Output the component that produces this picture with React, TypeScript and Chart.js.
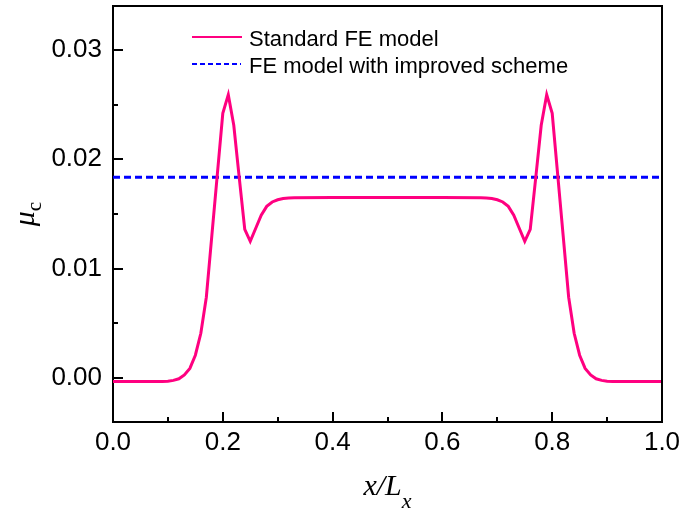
import { useEffect, useRef } from "react";
import { Chart, registerables } from "chart.js";

Chart.register(...registerables);

// Normalised position along the specimen, x / Lx
const xPositions = [
  0.0, 0.04, 0.08, 0.09, 0.1, 0.11, 0.12, 0.13, 0.14, 0.15, 0.16, 0.17, 0.18, 0.19,
  0.2, 0.21, 0.22, 0.23, 0.24, 0.25, 0.26, 0.27, 0.28, 0.29, 0.3, 0.31, 0.32, 0.33,
  0.4, 0.5, 0.6,
  0.67, 0.68, 0.69, 0.7, 0.71, 0.72, 0.73, 0.74, 0.75, 0.76, 0.77, 0.78, 0.79, 0.8,
  0.81, 0.82, 0.83, 0.84, 0.85, 0.86, 0.87, 0.88, 0.89, 0.9, 0.91, 0.92, 0.96, 1.0,
];

// Friction coefficient, standard FE model
const muStandard = [
  -0.0003, -0.0003, -0.0003, -0.0003, -0.00028, -0.0002, -0.00005, 0.0003, 0.0009, 0.0021,
  0.0041, 0.0074, 0.013, 0.0186, 0.0242, 0.0259, 0.0231, 0.0183, 0.0136, 0.0125, 0.0137,
  0.0149, 0.0157, 0.0161, 0.0163, 0.01642, 0.01646, 0.01648,
  0.0165, 0.0165, 0.0165,
  0.01648, 0.01646, 0.01642, 0.0163, 0.0161, 0.0157, 0.0149, 0.0137, 0.0125, 0.0136,
  0.0183, 0.0231, 0.0259, 0.0242, 0.0186, 0.013, 0.0074, 0.0041, 0.0021, 0.0009, 0.0003,
  -0.00005, -0.0002, -0.00028, -0.0003, -0.0003, -0.0003, -0.0003,
];

// Friction coefficient, FE model with improved scheme
const improvedPositions = [0.0, 1.0];
const muImproved = [0.01835, 0.01835];

const seriesLabels = ["Standard FE model", "FE model with improved scheme"];

const xTickValues = [0.0, 0.2, 0.4, 0.6, 0.8, 1.0];
const xMinorTicks = [0.1, 0.3, 0.5, 0.7, 0.9];
const yTickValues = [0.0, 0.01, 0.02, 0.03];
const yMinorTicks = [0.005, 0.015, 0.025];

const PINK = "#FF0080";
const BLUE = "#0000FF";
const SANS = "'Liberation Sans', Arial, sans-serif";
const SERIF = "'Liberation Serif', 'Times New Roman', serif";

// Closed frame plus inward-pointing major/minor tick marks
const frameTicks = {
  id: "frameTicks",
  afterDatasetsDraw(chart: any) {
    const { ctx, chartArea: a, scales } = chart;
    const xs = scales.x;
    const ys = scales.y;
    ctx.save();
    ctx.strokeStyle = "#000";
    ctx.lineWidth = 2;
    ctx.beginPath();
    ctx.moveTo(a.left - 1, a.top);
    ctx.lineTo(a.right, a.top);
    ctx.lineTo(a.right, a.bottom + 1);
    const xMark = (v: number, len: number) => {
      const px = Math.round(xs.getPixelForValue(v));
      ctx.moveTo(px, a.bottom);
      ctx.lineTo(px, a.bottom - len);
    };
    const yMark = (v: number, len: number) => {
      const py = Math.round(ys.getPixelForValue(v));
      ctx.moveTo(a.left, py);
      ctx.lineTo(a.left + len, py);
    };
    xTickValues.forEach((v) => xMark(v, 10));
    xMinorTicks.forEach((v) => xMark(v, 5));
    yTickValues.forEach((v) => yMark(v, 10));
    yMinorTicks.forEach((v) => yMark(v, 5));
    ctx.stroke();
    ctx.restore();
  },
};

// Legend inside the plot area
const innerLegend = {
  id: "innerLegend",
  afterDraw(chart: any) {
    const { ctx } = chart;
    ctx.save();
    ctx.lineWidth = 2;
    ctx.strokeStyle = PINK;
    ctx.beginPath();
    ctx.moveTo(192, 37);
    ctx.lineTo(242, 37);
    ctx.stroke();
    ctx.strokeStyle = BLUE;
    ctx.setLineDash([5, 3]);
    ctx.beginPath();
    ctx.moveTo(192, 64);
    ctx.lineTo(241, 64);
    ctx.stroke();
    ctx.setLineDash([]);
    ctx.fillStyle = "#000";
    ctx.font = `22px ${SANS}`;
    ctx.textAlign = "left";
    ctx.textBaseline = "alphabetic";
    ctx.fillText(seriesLabels[0], 249, 46);
    ctx.fillText(seriesLabels[1], 249, 73);
    ctx.restore();
  },
};

// Axis titles with subscripts
const axisTitles = {
  id: "axisTitles",
  afterDraw(chart: any) {
    const { ctx, chartArea: a } = chart;
    ctx.save();
    ctx.fillStyle = "#000";
    ctx.textBaseline = "alphabetic";
    ctx.textAlign = "left";

    // x / Lx
    ctx.font = `italic 30px ${SERIF}`;
    const main = "x/L";
    const wMain = ctx.measureText(main).width;
    ctx.font = `italic 22px ${SERIF}`;
    const wSub = ctx.measureText("x").width;
    const cx = (a.left + a.right) / 2;
    const startX = cx - (wMain + wSub) / 2;
    ctx.font = `italic 30px ${SERIF}`;
    ctx.fillText(main, startX, 495);
    ctx.font = `italic 22px ${SERIF}`;
    ctx.fillText("x", startX + wMain, 508);

    // mu_c
    ctx.font = `italic 30px ${SERIF}`;
    const wMu = ctx.measureText("\u03bc").width;
    ctx.font = `21px ${SERIF}`;
    const wC = ctx.measureText("c").width;
    const cy = (a.top + a.bottom) / 2;
    ctx.translate(34, cy);
    ctx.rotate(-Math.PI / 2);
    const s = -(wMu + wC) / 2;
    ctx.font = `italic 30px ${SERIF}`;
    ctx.fillText("\u03bc", s, 0);
    ctx.font = `21px ${SERIF}`;
    ctx.fillText("c", s + wMu, 7);
    ctx.restore();
  },
};

// Drop the automatic label-overflow margins so the plot box is set by layout padding
const noLabelMargins = (scale: any) => {
  scale.paddingTop = 0;
  scale.paddingBottom = 0;
  scale.paddingLeft = 0;
  scale.paddingRight = 0;
};

export default function App() {
  const canvasRef = useRef<HTMLCanvasElement | null>(null);

  useEffect(() => {
    document.body.style.margin = "0";
    const canvas = canvasRef.current;
    if (!canvas) return;

    const chart = new Chart(canvas, {
      type: "scatter",
      data: {
        datasets: [
          {
            label: seriesLabels[0],
            data: xPositions.map((x, i) => ({ x, y: muStandard[i] })),
            showLine: true,
            borderColor: PINK,
            backgroundColor: PINK,
            borderWidth: 3,
            pointRadius: 0,
            tension: 0,
          },
          {
            label: seriesLabels[1],
            data: improvedPositions.map((x, i) => ({ x, y: muImproved[i] })),
            showLine: true,
            borderColor: BLUE,
            backgroundColor: BLUE,
            borderWidth: 3,
            borderDash: [7, 4],
            pointRadius: 0,
          },
        ],
      },
      options: {
        responsive: false,
        devicePixelRatio: 1,
        animation: false,
        layout: { padding: { top: 6, right: 21, left: 0, bottom: 0 } },
        plugins: {
          legend: { display: false },
          tooltip: { enabled: false },
        },
        scales: {
          x: {
            type: "linear",
            min: 0,
            max: 1,
            grid: { display: false, drawTicks: false },
            border: { display: true, color: "#000", width: 2 },
            afterBuildTicks: (scale: any) => {
              scale.ticks = xTickValues.map((value) => ({ value }));
            },
            afterFit: (scale: any) => {
              scale.height = 89;
              noLabelMargins(scale);
            },
            ticks: {
              color: "#000",
              font: { family: SANS, size: 26 },
              padding: 5,
              maxRotation: 0,
              autoSkip: false,
              callback: (v: any) => Number(v).toFixed(1),
            },
          },
          y: {
            type: "linear",
            min: -0.004,
            max: 0.034,
            grid: { display: false, drawTicks: false },
            border: { display: true, color: "#000", width: 2 },
            afterBuildTicks: (scale: any) => {
              scale.ticks = yTickValues.map((value) => ({ value }));
            },
            afterFit: (scale: any) => {
              scale.width = 113;
              noLabelMargins(scale);
            },
            ticks: {
              color: "#000",
              font: { family: SANS, size: 26 },
              padding: 11,
              autoSkip: false,
              callback: (v: any) => Number(v).toFixed(2),
            },
          },
        },
      },
      plugins: [frameTicks, innerLegend, axisTitles],
    });

    return () => chart.destroy();
  }, []);

  return (
    <div style={{ width: 683, height: 511, background: "#fff" }}>
      <canvas ref={canvasRef} width={683} height={511} style={{ display: "block" }} />
    </div>
  );
}
